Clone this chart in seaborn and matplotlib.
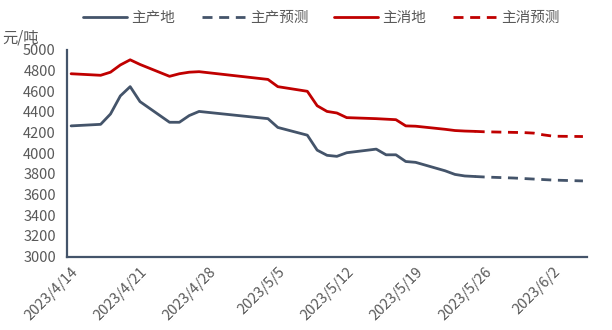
import matplotlib
matplotlib.use("Agg")
import matplotlib.pyplot as plt
import seaborn as sns
import pandas as pd

# ---- data ----
prod_dates = ["2023-04-14", "2023-04-17", "2023-04-18", "2023-04-19", "2023-04-20", "2023-04-21",
              "2023-04-24", "2023-04-25", "2023-04-26", "2023-04-27", "2023-05-04", "2023-05-05",
              "2023-05-08", "2023-05-09", "2023-05-10", "2023-05-11", "2023-05-12", "2023-05-15",
              "2023-05-16", "2023-05-17", "2023-05-18", "2023-05-19", "2023-05-22", "2023-05-23",
              "2023-05-24", "2023-05-25"]
prod_values = [4265, 4280, 4380, 4555, 4645, 4500,
               4300, 4300, 4365, 4405, 4335, 4250,
               4175, 4030, 3980, 3970, 4005, 4040,
               3985, 3985, 3920, 3912, 3830, 3795,
               3780, 3775]
cons_values = [4770, 4755, 4785, 4855, 4905, 4860,
               4745, 4770, 4785, 4790, 4715, 4645,
               4600, 4460, 4405, 4390, 4345, 4335,
               4330, 4325, 4265, 4262, 4232, 4220,
               4215, 4212]

fc_dates = ["2023-05-25", "2023-05-26", "2023-05-29", "2023-05-30", "2023-05-31",
            "2023-06-01", "2023-06-02", "2023-06-05"]
prod_fc = [3775, 3770, 3760, 3755, 3750, 3745, 3740, 3732]
cons_fc = [4212, 4208, 4202, 4200, 4195, 4178, 4165, 4162]

tick_dates = ["2023-04-14", "2023-04-21", "2023-04-28", "2023-05-05",
              "2023-05-12", "2023-05-19", "2023-05-26", "2023-06-02"]
tick_labels = ["2023/4/14", "2023/4/21", "2023/4/28", "2023/5/5",
               "2023/5/12", "2023/5/19", "2023/5/26", "2023/6/2"]
y_ticks = list(range(3000, 5001, 200))

series_names = ["主产地", "主产预测", "主消地", "主消预测"]

# ---- style ----
sns.set_style("white")
plt.rcParams["font.family"] = ["Noto Sans CJK SC", "DejaVu Sans"]

BLUE = "#44546A"
RED = "#C00000"
AXC = "#44546A"
TXT = "#595959"
DASH = (0, (3.6, 2.4))

fig = plt.figure(figsize=(6.12, 3.30), dpi=100)
ax = fig.add_axes([0.1095, 0.2227, 0.8497, 0.6258])

pd_dates = pd.to_datetime(prod_dates)
fc_dt = pd.to_datetime(fc_dates)

sns.lineplot(x=pd_dates, y=prod_values, ax=ax, color=BLUE, lw=2.0, label=series_names[0])
sns.lineplot(x=fc_dt, y=prod_fc, ax=ax, color=BLUE, lw=2.0, linestyle=DASH, label=series_names[1])
sns.lineplot(x=pd_dates, y=cons_values, ax=ax, color=RED, lw=2.0, label=series_names[2])
sns.lineplot(x=fc_dt, y=cons_fc, ax=ax, color=RED, lw=2.0, linestyle=DASH, label=series_names[3])

x0 = pd.Timestamp("2023-04-14") - pd.Timedelta(hours=10)
x1 = pd.Timestamp("2023-06-05") + pd.Timedelta(hours=10)
ax.set_xlim(x0, x1)
ax.set_ylim(3000, 5000)
ax.set_yticks(y_ticks)
ax.set_yticklabels([str(v) for v in y_ticks])
ax.set_xticks(pd.to_datetime(tick_dates))
ax.set_xticklabels(tick_labels, rotation=45, ha="right", rotation_mode="anchor")

for s in ["top", "right"]:
    ax.spines[s].set_visible(False)
for s in ["left", "bottom"]:
    ax.spines[s].set_color(AXC)
    ax.spines[s].set_linewidth(1.6)
ax.tick_params(axis="both", direction="in", length=4, width=1.4, color=AXC,
               labelsize=10.5, labelcolor=TXT)
ax.tick_params(axis="y", pad=8)
ax.tick_params(axis="x", pad=6)
ax.set_xlabel("")
ax.set_ylabel("")
ax.grid(False)

ax.legend(loc="center", bbox_to_anchor=(0.525, 0.945), bbox_transform=fig.transFigure,
          ncol=4, frameon=False, fontsize=10.5, handlelength=3.0, handletextpad=0.3,
          columnspacing=1.8, labelcolor=TXT)

fig.text(0.004, 1 - 38 / 330, "元/吨", fontsize=11, color=TXT, va="center", ha="left")

fig.savefig("out.png", dpi=100)
